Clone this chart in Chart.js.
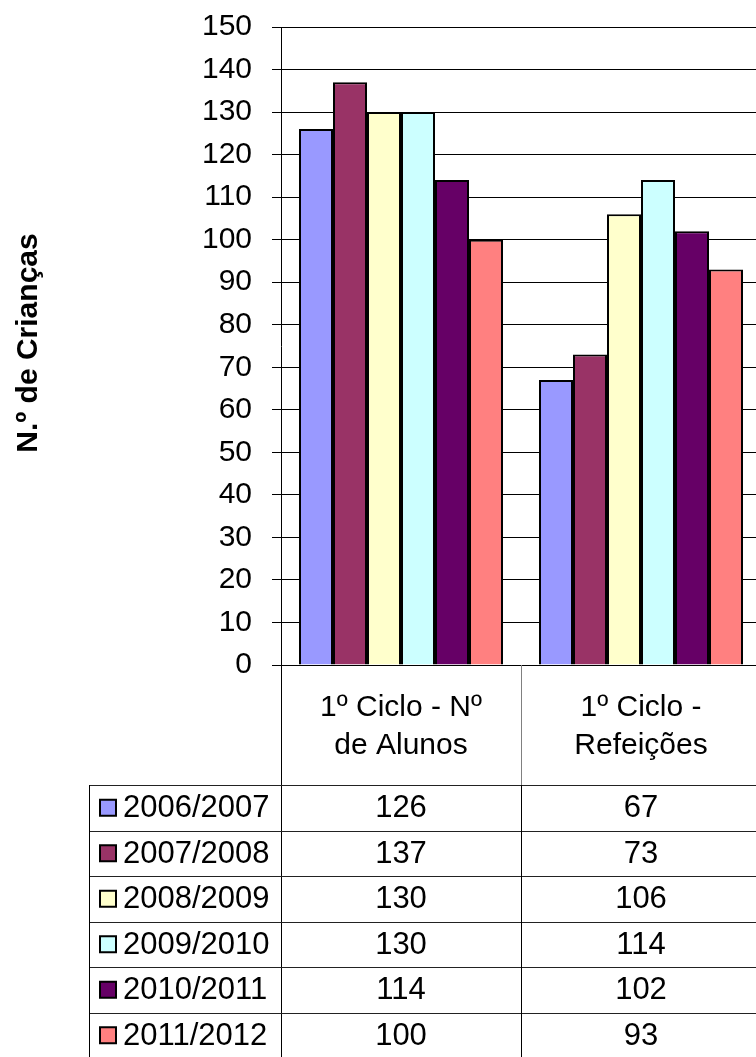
<!DOCTYPE html>
<html>
<head>
<meta charset="utf-8">
<script src="https://cdn.jsdelivr.net/npm/chart.js@4"></script>
<style>
  html, body { margin: 0; padding: 0; background: #fff; overflow: hidden; }
  #wrap { width: 770px; height: 1057px; }
</style>
</head>
<body>
<div id="wrap"><canvas id="chart" width="770" height="1057"></canvas></div>
<script>
const categories = [['1º Ciclo - Nº', 'de Alunos'], ['1º Ciclo -', 'Refeições']];
const seriesNames = ['2006/2007', '2007/2008', '2008/2009', '2009/2010', '2010/2011', '2011/2012'];
const seriesValues = [
    [126, 67],
    [137, 73],
    [130, 106],
    [130, 114],
    [114, 102],
    [100, 93]
];
const seriesColors = ['#9999FF', '#993366', '#FFFFCC', '#CCFFFF', '#660066', '#FF8080'];
const yTitle = 'N.º de Crianças';

const FONT = "'Liberation Sans', Arial, sans-serif";

// data table + axis title drawn under the plot
const tablePlugin = {
    id: 'dataTable',
    afterDraw(chart) {
        const ctx = chart.ctx;
        const area = chart.chartArea;
        const xs = chart.scales.x;
        const catW = (area.right - area.left) / categories.length;
        const tableTop = 785;
        const rowH = 45.5;
        const tableBottom = tableTop + rowH * seriesNames.length;
        const tableLeft = 89;

        ctx.save();

        // axis title
        ctx.save();
        ctx.translate(37, 343);
        ctx.rotate(-Math.PI / 2);
        ctx.font = `bold 30px ${FONT}`;
        ctx.fillStyle = '#000';
        ctx.textAlign = 'center';
        ctx.textBaseline = 'alphabetic';
        ctx.fillText(yTitle, 0, 0);
        ctx.restore();

        // category label area divider
        ctx.lineWidth = 1;
        ctx.strokeStyle = '#808080';
        for (let i = 1; i < categories.length; i++) {
            const x = Math.round(area.left + catW * i) + 0.5;
            ctx.beginPath();
            ctx.moveTo(x, area.bottom);
            ctx.lineTo(x, tableTop);
            ctx.stroke();
        }

        // left axis continues down through the table
        ctx.strokeStyle = '#000';
        ctx.beginPath();
        ctx.moveTo(Math.round(area.left) + 0.5, area.bottom);
        ctx.lineTo(Math.round(area.left) + 0.5, tableBottom);
        ctx.stroke();

        // category labels
        ctx.font = `30px ${FONT}`;
        ctx.fillStyle = '#000';
        ctx.textAlign = 'center';
        ctx.textBaseline = 'middle';
        categories.forEach((lines, i) => {
            const cx = xs.getPixelForValue(i);
            lines.forEach((t, j) => ctx.fillText(t, cx, 708 + j * 38));
        });

        // table grid
        ctx.strokeStyle = '#222';
        for (let r = 0; r <= seriesNames.length; r++) {
            const y = Math.round(tableTop + r * rowH) + 0.5;
            ctx.beginPath();
            ctx.moveTo(tableLeft, y);
            ctx.lineTo(area.right, y);
            ctx.stroke();
        }
        ctx.strokeStyle = '#000';
        ctx.beginPath();
        ctx.moveTo(tableLeft + 0.5, tableTop);
        ctx.lineTo(tableLeft + 0.5, tableBottom);
        ctx.stroke();
        for (let i = 1; i <= categories.length; i++) {
            const x = Math.round(area.left + catW * i) + 0.5;
            ctx.beginPath();
            ctx.moveTo(x, tableTop);
            ctx.lineTo(x, tableBottom);
            ctx.stroke();
        }

        // rows
        ctx.font = `31px ${FONT}`;
        seriesNames.forEach((name, r) => {
            const cy = tableTop + r * rowH + rowH / 2;
            ctx.fillStyle = seriesColors[r];
            ctx.fillRect(100, cy - 8, 16, 16);
            ctx.lineWidth = 2;
            ctx.strokeStyle = '#000';
            ctx.strokeRect(100, cy - 8, 16, 16);
            ctx.fillStyle = '#000';
            ctx.textAlign = 'left';
            ctx.fillText(name, 123, cy + 1);
            ctx.textAlign = 'center';
            seriesValues[r].forEach((v, i) => {
                ctx.fillText(String(v), xs.getPixelForValue(i), cy + 1);
            });
        });

        ctx.restore();
    }
};

new Chart(document.getElementById('chart'), {
    type: 'bar',
    data: {
        labels: categories,
        datasets: seriesNames.map((name, i) => ({
            label: name,
            data: seriesValues[i],
            backgroundColor: seriesColors[i],
            borderColor: '#000',
            borderWidth: 2,
            categoryPercentage: 0.85,
            barPercentage: 1.0
        }))
    },
    options: {
        responsive: false,
        animation: false,
        devicePixelRatio: 1,
        layout: { padding: { left: 0, top: 27, right: 9, bottom: 392 } },
        plugins: {
            legend: { display: false },
            tooltip: { enabled: false }
        },
        scales: {
            x: { display: false },
            y: {
                min: 0,
                max: 150,
                afterFit(scale) {
                    scale.width = 281;
                    scale.paddingTop = 0;
                    scale.paddingBottom = 0;
                },
                ticks: {
                    stepSize: 10,
                    padding: 20,
                    color: '#000',
                    autoSkip: false,
                    font: { family: FONT, size: 30 }
                },
                grid: { color: '#000', lineWidth: 1, tickLength: 9 },
                border: { color: '#000', width: 1 }
            }
        }
    },
    plugins: [tablePlugin]
});
</script>
</body>
</html>
